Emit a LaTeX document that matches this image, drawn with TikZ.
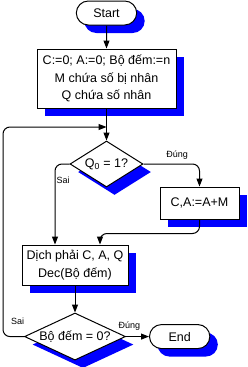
\documentclass[tikz,border=0pt]{standalone}
\usepackage{fontspec}
\setmainfont{Liberation Sans}
\usetikzlibrary{arrows.meta,positioning,shapes.geometric,shapes.misc,shadows}

\begin{document}
\begin{tikzpicture}[x=1pt,y=-1pt,
  shade/.style={drop shadow={shadow xshift=8pt,shadow yshift=-8pt,fill=blue,opacity=1}},
  term/.style={rounded rectangle,draw,fill=white,shade,line width=1pt,
  minimum width=67pt,minimum height=24pt,font=\fontsize{12.5}{14}\selectfont},
  box/.style={rectangle,draw,fill=white,shade,line width=1pt,align=center,
  font=\fontsize{12.5}{17.5}\selectfont},
  test/.style={diamond,draw,fill=white,shade,line width=1pt,inner sep=0pt,
  aspect=2,font=\fontsize{12.5}{14}\selectfont},
  lbl/.style={font=\fontsize{9}{10}\selectfont,inner sep=1pt},
  arr/.style={-{Triangle[length=8pt,width=6pt]},line width=1pt,rounded corners=7pt}]
\useasboundingbox (0,0) rectangle (248,367);
\node[term] (start) at (106.5,13) {Start};
\node[box,minimum width=139pt,minimum height=59pt,below=23pt of start] (init)
  {C:=0; A:=0; Bộ đếm:=n\\M chứa số bị nhân\\Q chứa số nhân};
\node[test,minimum width=73pt,minimum height=46pt,below=32pt of init] (q0) {Q\textsubscript{0} = 1?};
\node[box,minimum width=79pt,minimum height=32pt] (add) at (199.5,203) {C,A:=A+M};
\node[box,minimum width=106pt,minimum height=40pt] (shift) at (75,265) {Dịch phải C, A, Q\\Dec(Bộ đếm)};
\node[test,minimum width=101pt,minimum height=45pt,below=27pt of shift] (cnt) {Bộ đếm = 0?};
\node[term,right=23pt of cnt] (end) {End};
\coordinate (join) at (106.5,127);
\draw[arr] (start) -- (init);
\draw[arr] (init) -- (q0);
\draw[arr] (q0.east) -| node[lbl,pos=0.3,above,yshift=3pt]{Đúng} (add);
\draw[arr] (q0.west) -| node[lbl,pos=0.6,right]{Sai} ([xshift=-20pt]shift.north);
\draw[arr] (add.south) -- ++(0,14) -| ([xshift=25pt]shift.north);
\draw[arr] (shift) -- (cnt);
\draw[arr] (cnt) -- node[lbl,pos=0.15,above,yshift=5pt]{Đúng} (end);
\draw[arr] (cnt.west) -- node[lbl,pos=0.3,above,yshift=10pt]{Sai} ++(-21,0) |- (join);
\end{tikzpicture}
\end{document}
